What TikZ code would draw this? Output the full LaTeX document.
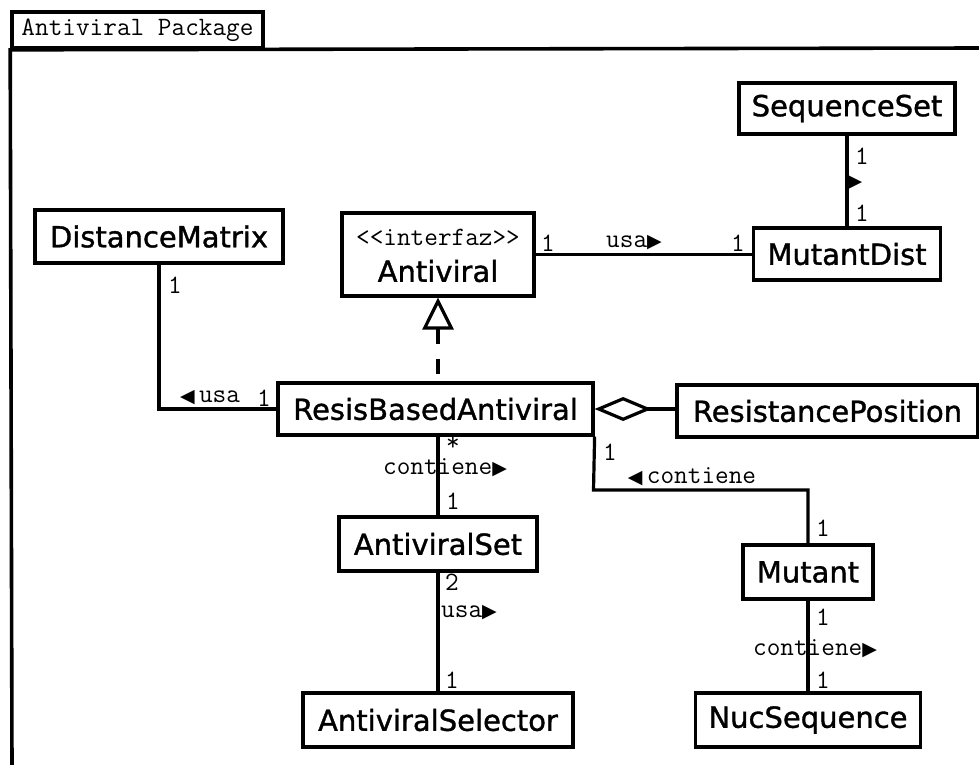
\documentclass[tikz,border=0pt]{standalone}
\usepackage{fontspec}
\usetikzlibrary{arrows.meta}
\newfontfamily\clsfont{DejaVu Sans}[FakeBold=1.2]
\newfontfamily\symfont{DejaVu Sans}
\newcommand\rarr{{\symfont\fontsize{19}{19}\selectfont ▶}}
\newcommand\larr{{\symfont\fontsize{19}{19}\selectfont ◀}}
\begin{document}
\begin{tikzpicture}[x=1pt,y=-1pt,line width=3.2pt,
  cls/.style={draw,fill=white,inner sep=0pt,font=\clsfont\fontsize{29}{30}\selectfont},
  lbl/.style={inner sep=0pt,font=\ttfamily\fontsize{26.5}{27}\selectfont},
  assoc/.style={line width=3.2pt},
  frame/.style={line width=3.6pt},
  realize/.style={line width=3.2pt,dash pattern=on 15pt off 15pt,
    {Triangle[open,length=32pt,width=31pt]}-},
  aggr/.style={line width=3.2pt,{Diamond[fill=white,length=57pt,width=24pt]}-}]
\useasboundingbox (0,0) rectangle (979,765);
\fill[white] (0,0) rectangle (979,765);

% package frame with its tab
\node[draw,frame,lbl,minimum width=251pt,minimum height=36pt] (tab) at (137.5,30) {Antiviral Package};
\coordinate (frameTR) at (982,48);
\coordinate (frameBL) at (12,768);
\draw[frame] (frameBL) -- (tab.south west) -- (frameTR);

% classes
\node[cls,minimum width=216pt,minimum height=51pt] (ss) at (847,108.5) {SequenceSet};
\node[cls,minimum width=187pt,minimum height=52pt] (md) at (847,254) {MutantDist};
\node[cls,minimum width=192pt,minimum height=83pt] (av) at (438,254.5) {};
\node[lbl] (avst) at (438,237) {<\kern0pt<interfaz>\kern0pt>};
\node[inner sep=0pt,font=\clsfont\fontsize{29}{30}\selectfont] (avname) at (438,271) {Antiviral};
\node[cls,minimum width=248pt,minimum height=53pt] (dm) at (159,236.5) {DistanceMatrix};
\node[cls,minimum width=315pt,minimum height=52pt] (rba) at (435.5,409) {ResisBasedAntiviral};
\node[cls,minimum width=301pt,minimum height=52pt] (rp) at (827.5,411) {ResistancePosition};
\node[cls,minimum width=198pt,minimum height=54pt] (as) at (438,544) {AntiviralSet};
\node[cls,minimum width=270pt,minimum height=54pt] (asel) at (438,720) {AntiviralSelector};
\node[cls,minimum width=130pt,minimum height=54pt] (mu) at (808,572) {Mutant};
\node[cls,minimum width=225pt,minimum height=54pt] (nuc) at (808,720) {NucSequence};

% connectors
\draw[assoc] (ss.south) -- (ss.south |- md.north);
\draw[assoc] (av.east) -- (av.east -| md.west);
\draw[assoc] (dm.south) |- (rba.west);
\draw[realize] (av.south) -- (av.south |- rba.north);
\draw[aggr] (rba.east) -- (rba.east -| rp.west);
\draw[assoc] (as.north |- rba.south) -- (as.north);
\draw[assoc] (as.south) -- (asel.north);
\coordinate (muBend) at (593.5,490);
\draw[assoc] (rba.south east) -- (muBend) -| (mu.north);
\draw[assoc] (mu.south) -- (nuc.north);

% SequenceSet -- MutantDist
\node[lbl] (ssM1) at (862,156) {1};
\node[inner sep=0pt] (ssDir) at (855,183) {\rarr};
\node[lbl] (ssM2) at (862,213) {1};

% Antiviral -- MutantDist
\node[lbl] (avM1) at (548,243) {1};
\node[lbl] (avRole) at (634,243) {usa\rarr};
\node[lbl] (avM2) at (738,243) {1};

% DistanceMatrix -- ResisBasedAntiviral
\node[lbl] (dmM1) at (175,285) {1};
\node[lbl] (dmRole) at (210,398) {\larr\,usa};
\node[lbl] (dmM2) at (264,398) {1};

% ResisBasedAntiviral -- AntiviralSet
\node[lbl] (asM1) at (453,444) {*};
\node[lbl] (asRole) at (445,468) {contiene\rarr};
\node[lbl] (asM2) at (453,501) {1};

% AntiviralSet -- AntiviralSelector
\node[lbl] (selM1) at (452,582) {2};
\node[lbl] (selRole) at (469,613) {usa\rarr};
\node[lbl] (selM2) at (452,680) {1};

% ResisBasedAntiviral -- Mutant
\node[lbl] (muM1) at (610,452) {1};
\node[lbl] (muRole) at (692,477) {\larr\,contiene};
\node[lbl] (muM2) at (823,528) {1};

% Mutant -- NucSequence
\node[lbl] (nucM1) at (823,617) {1};
\node[lbl] (nucRole) at (815,649) {contiene\rarr};
\node[lbl] (nucM2) at (823,680) {1};
\end{tikzpicture}
\end{document}
